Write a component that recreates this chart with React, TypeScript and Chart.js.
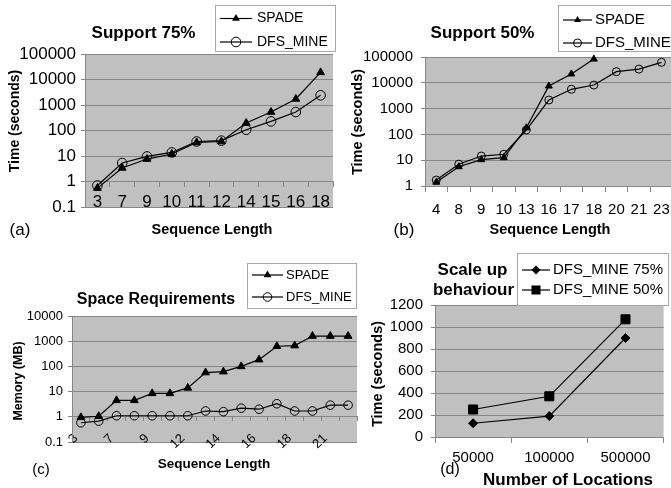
import React, { useEffect, useRef } from 'react';
import { Chart, registerables } from 'chart.js';

Chart.register(...registerables);

// ---------- data ----------
// (a) Support 75%
const catsA = ['3', '7', '9', '10', '11', '12', '14', '15', '16', '18'];
const spadeA = [0.55, 3.4, 7.6, 12, 34, 37, 196, 530, 1730, 19000];
const dfsA = [0.7, 5.3, 9.6, 13.8, 37, 40, 107, 228, 530, 2400];
const yTicksA = [0.1, 1, 10, 100, 1000, 10000, 100000];

// (b) Support 50%
const catsB = ['4', '8', '9', '10', '13', '16', '17', '18', '20', '21', '23'];
const spadeB = [1.4, 5.6, 10.5, 12.5, 180, 7500, 22000, 83000, null, null, null];
const dfsB = [1.7, 7, 14.5, 17, 148, 2150, 5600, 8200, 27000, 34000, 62000];
const yTicksB = [1, 10, 100, 1000, 10000, 100000];

// (c) Space Requirements
const catsC = ['3', '5', '7', '8', '9', '10', '12', '13', '14', '15', '16', '17', '18', '20', '21', '22'];
const spadeC = [0.95, 1.05, 4.5, 4.5, 8.5, 8.5, 14, 57, 62, 100, 185, 630, 670, 1600, 1600, 1600];
const dfsC = [0.58, 0.67, 1.1, 1.1, 1.1, 1.1, 1.1, 1.7, 1.6, 2.2, 2.0, 3.3, 1.7, 1.7, 2.9, 2.9];
const yTicksC = [0.1, 1, 10, 100, 1000, 10000];

// (d) Scale up behaviour
const catsD = ['50000', '100000', '500000'];
const dfs75D = [125, 190, 900];
const dfs50D = [250, 370, 1070];

// ---------- style ----------
const W = 671;
const H = 488;
const FONT = '"Liberation Sans", Arial, Helvetica, sans-serif';
const GRID = '#868686';
const PLOT_BG = '#c0c0c0';
const INK = '#000000';

type Marker = 'triangle' | 'circle' | 'diamond' | 'square';

function drawMarker(ctx: CanvasRenderingContext2D, kind: Marker, x: number, y: number, r: number) {
  ctx.beginPath();
  if (kind === 'triangle') {
    for (let i = 0; i < 3; i++) {
      const a = (i * 2 * Math.PI) / 3;
      const px = x + Math.sin(a) * r;
      const py = y - Math.cos(a) * r;
      if (i === 0) ctx.moveTo(px, py);
      else ctx.lineTo(px, py);
    }
    ctx.closePath();
    ctx.fill();
  } else if (kind === 'circle') {
    ctx.arc(x, y, r, 0, Math.PI * 2);
    ctx.lineWidth = 1;
    ctx.stroke();
  } else if (kind === 'diamond') {
    ctx.moveTo(x, y - r);
    ctx.lineTo(x + r, y);
    ctx.lineTo(x, y + r);
    ctx.lineTo(x - r, y);
    ctx.closePath();
    ctx.fill();
  } else {
    const s = r * Math.SQRT1_2;
    ctx.rect(x - s, y - s, 2 * s, 2 * s);
    ctx.fill();
  }
}

const plotBg = {
  id: 'plotBg',
  beforeDraw(chart: any) {
    const { ctx, chartArea: a } = chart;
    ctx.save();
    ctx.fillStyle = PLOT_BG;
    ctx.fillRect(a.left, a.top, a.right - a.left, a.bottom - a.top);
    ctx.restore();
  },
};

type Txt = { t: string; x: number; y: number; size: number; bold?: boolean; rot?: boolean };
type Leg = { box: [number, number, number, number]; rows: number[]; x1: number; x2: number; tx: number; size: number };

function decor(texts: Txt[], leg: Leg) {
  return {
    id: 'decor',
    afterDraw(chart: any) {
      const ctx: CanvasRenderingContext2D = chart.ctx;
      ctx.save();
      ctx.textBaseline = 'middle';
      ctx.fillStyle = INK;
      for (const t of texts) {
        ctx.font = `${t.bold ? 'bold ' : ''}${t.size}px ${FONT}`;
        ctx.textAlign = 'center';
        if (t.rot) {
          ctx.save();
          ctx.translate(t.x, t.y);
          ctx.rotate(-Math.PI / 2);
          ctx.fillText(t.t, 0, 0);
          ctx.restore();
        } else {
          ctx.fillText(t.t, t.x, t.y);
        }
      }
      const [bx, by, bw, bh] = leg.box;
      ctx.fillStyle = '#ffffff';
      ctx.fillRect(bx, by, bw, bh);
      ctx.strokeStyle = '#a8a8a8';
      ctx.lineWidth = 1;
      ctx.strokeRect(bx + 0.5, by + 0.5, bw, bh);
      chart.data.datasets.forEach((ds: any, i: number) => {
        const y = leg.rows[i];
        ctx.strokeStyle = INK;
        ctx.lineWidth = 1.2;
        ctx.beginPath();
        ctx.moveTo(leg.x1, y);
        ctx.lineTo(leg.x2, y);
        ctx.stroke();
        ctx.fillStyle = INK;
        drawMarker(ctx, ds.marker, (leg.x1 + leg.x2) / 2, y, ds.pointRadius);
        ctx.font = `${leg.size}px ${FONT}`;
        ctx.textAlign = 'left';
        ctx.fillStyle = INK;
        ctx.fillText(ds.label, leg.tx, y);
      });
      ctx.restore();
    },
  };
}

function series(label: string, data: (number | null)[], marker: Marker, r: number) {
  const style = { triangle: 'triangle', circle: 'circle', diamond: 'rectRot', square: 'rect' }[marker];
  return {
    label,
    data,
    marker,
    borderColor: INK,
    borderWidth: 1.2,
    tension: 0,
    fill: false,
    clip: false,
    pointStyle: style,
    pointRadius: r,
    pointHoverRadius: r,
    pointBackgroundColor: marker === 'circle' ? 'rgba(0,0,0,0)' : INK,
    pointBorderColor: INK,
    pointBorderWidth: 1,
  };
}

function logAxis(vals: number[], size: number, pad: number, width: number) {
  return {
    type: 'logarithmic',
    position: 'left',
    min: vals[0],
    max: vals[vals.length - 1],
    afterBuildTicks: (s: any) => {
      s.ticks = vals.map((v) => ({ value: v }));
    },
    afterFit: (s: any) => {
      s.width = width;
    },
    ticks: { callback: (v: any) => String(v), font: { family: FONT, size }, color: INK, padding: pad, autoSkip: false },
    grid: { color: GRID, lineWidth: 1, tickLength: 4, drawTicks: true },
    border: { display: true, color: GRID, width: 1 },
  };
}

function catAxis(size: number, pad: number, crossAt: number, tl: number, extraTicks: any = {}) {
  return {
    type: 'category',
    offset: true,
    position: { y: crossAt },
    grid: { display: true, drawOnChartArea: false, drawTicks: true, tickLength: tl, offset: true, color: GRID, lineWidth: 1 },
    border: { display: true, color: GRID, width: 1 },
    ticks: { font: { family: FONT, size }, color: INK, padding: pad, autoSkip: false, maxRotation: 0, minRotation: 0, ...extraTicks },
  };
}

function config(labels: string[], datasets: any[], x: any, y: any, padding: any, deco: any) {
  return {
    type: 'line',
    data: { labels, datasets },
    options: {
      responsive: false,
      animation: false,
      events: [],
      layout: { padding },
      plugins: { legend: { display: false }, title: { display: false }, tooltip: { enabled: false } },
      scales: { x, y },
    },
    plugins: [plotBg, deco],
  };
}

const buildA = () =>
  config(
    catsA,
    [series('SPADE', spadeA, 'triangle', 4.5), series('DFS_MINE', dfsA, 'circle', 4.8)],
    catAxis(17, 6, 1, 5),
    logAxis(yTicksA, 17, 5, 85),
    { left: 0, top: 54, right: W - 333, bottom: H - 207 },
    decor(
      [
        { t: 'Support 75%', x: 143.5, y: 33, size: 17, bold: true },
        { t: '(a)', x: 20, y: 230, size: 17 },
        { t: 'Sequence Length', x: 212, y: 230, size: 14.5, bold: true },
        { t: 'Time (seconds)', x: 15, y: 121, size: 14, bold: true, rot: true },
      ],
      { box: [215, 5, 120, 46], rows: [18.5, 42], x1: 220, x2: 252, tx: 257, size: 14 }
    )
  );

const buildB = () =>
  config(
    catsB,
    [series('SPADE', spadeB, 'triangle', 4), series('DFS_MINE', dfsB, 'circle', 4)],
    catAxis(15, 10, 1, 5),
    logAxis(yTicksB, 15, 8, 80),
    { left: 345, top: 57, right: 4, bottom: H - 186 },
    decor(
      [
        { t: 'Support 50%', x: 482.5, y: 33, size: 17, bold: true },
        { t: '(b)', x: 404, y: 230, size: 17 },
        { t: 'Sequence Length', x: 550, y: 230, size: 14.5, bold: true },
        { t: 'Time (seconds)', x: 358, y: 122, size: 14.5, bold: true, rot: true },
      ],
      { box: [558, 5, 125, 46], rows: [20, 43], x1: 563, x2: 592, tx: 595, size: 15 }
    )
  );

const buildC = () =>
  config(
    catsC,
    [series('SPADE', spadeC, 'triangle', 4.5), series('DFS_MINE', dfsC, 'circle', 4.3)],
    catAxis(13, 10, 1, 4, {
      maxRotation: 45,
      minRotation: 45,
      labelOffset: -5,
      callback: (_v: any, i: number) => (i % 2 === 0 ? catsC[i] : ''),
    }),
    logAxis(yTicksC, 13, 5, 72),
    { left: 0, top: 316, right: W - 357, bottom: H - 442 },
    decor(
      [
        { t: 'Space Requirements', x: 156, y: 300, size: 16, bold: true },
        { t: '(c)', x: 41, y: 470, size: 15 },
        { t: 'Sequence Length', x: 214, y: 464, size: 13.5, bold: true },
        { t: 'Memory (MB)', x: 18.5, y: 381, size: 12.5, bold: true, rot: true },
      ],
      { box: [247, 263, 109, 45], rows: [275, 297], x1: 252, x2: 283, tx: 286, size: 13 }
    )
  );

const buildD = () =>
  config(
    catsD,
    [series('DFS_MINE 75%', dfs75D, 'diamond', 4.5), series('DFS_MINE 50%', dfs50D, 'square', 6.4)],
    catAxis(15, 7, 0, 5),
    {
      type: 'linear',
      position: 'left',
      min: 0,
      max: 1200,
      afterFit: (s: any) => {
        s.width = 60;
      },
      ticks: { stepSize: 200, callback: (v: any) => String(v), font: { family: FONT, size: 15 }, color: INK, padding: 8 },
      grid: { color: GRID, lineWidth: 1, tickLength: 4, drawTicks: true },
      border: { display: true, color: GRID, width: 1 },
    },
    { left: 375, top: 305, right: 3, bottom: H - 437 },
    decor(
      [
        { t: 'Scale up', x: 472.5, y: 270, size: 17, bold: true },
        { t: 'behaviour', x: 473.5, y: 290, size: 17, bold: true },
        { t: '(d)', x: 450, y: 470, size: 16 },
        { t: 'Number of Locations', x: 568, y: 480, size: 17, bold: true },
        { t: 'Time (seconds)', x: 378, y: 374, size: 14.5, bold: true, rot: true },
      ],
      { box: [517, 253, 151, 52], rows: [270, 290], x1: 522, x2: 550, tx: 553, size: 15 }
    )
  );

function Panel({ build, width }: { build: () => any; width: number }) {
  const ref = useRef<HTMLCanvasElement | null>(null);
  useEffect(() => {
    if (!ref.current) return;
    const chart = new Chart(ref.current, build());
    return () => chart.destroy();
  }, [build]);
  return (
    <canvas
      ref={ref}
      width={width}
      height={H}
      style={{ position: 'absolute', left: 0, top: 0, width, height: H }}
    />
  );
}

export default function App() {
  return (
    <div
      style={{
        position: 'fixed',
        left: 0,
        top: 0,
        width: W,
        height: H,
        overflow: 'hidden',
        background: '#ffffff',
      }}
    >
      <Panel build={buildA} width={W} />
      <Panel build={buildB} width={680} />
      <Panel build={buildC} width={W} />
      <Panel build={buildD} width={W} />
    </div>
  );
}
